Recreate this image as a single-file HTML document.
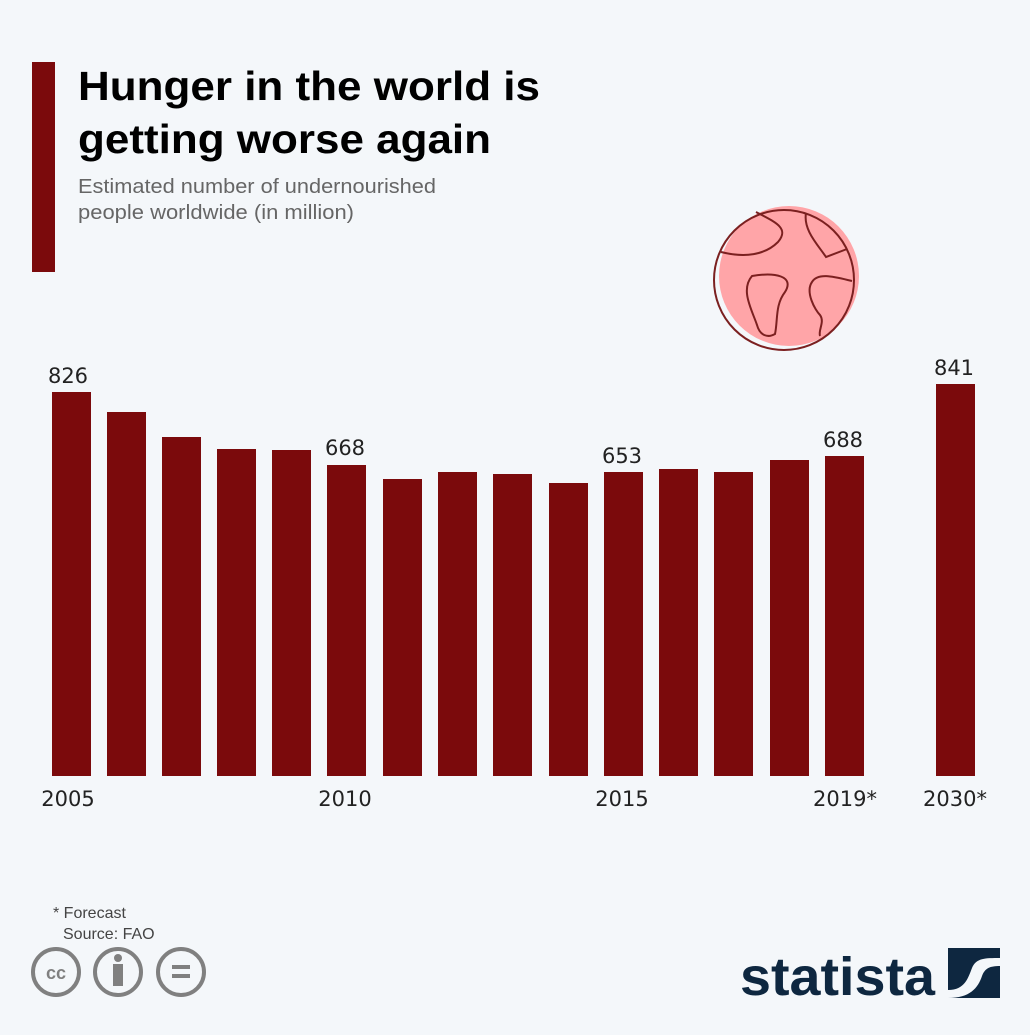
<!DOCTYPE html>
<html><head><meta charset="utf-8"><style>
body{margin:0;width:1030px;height:1030px;background:#f4f7fa;overflow:hidden;font-family:"Liberation Sans",sans-serif}
</style></head><body>
<svg width="1030" height="1030" xmlns="http://www.w3.org/2000/svg">
<rect width="1030" height="1030" fill="#f4f7fa"/>
<rect x="32" y="62" width="23" height="210" fill="#7b0a0c"/>
<text x="78" y="100" font-size="41" font-weight="bold" fill="#000" textLength="462" lengthAdjust="spacingAndGlyphs">Hunger in the world is</text>
<text x="78" y="153" font-size="41" font-weight="bold" fill="#000" textLength="413" lengthAdjust="spacingAndGlyphs">getting worse again</text>
<text x="78" y="193" font-size="20" fill="#666" textLength="358" lengthAdjust="spacingAndGlyphs">Estimated number of undernourished</text>
<text x="78" y="219" font-size="20" fill="#666" textLength="276" lengthAdjust="spacingAndGlyphs">people worldwide (in million)</text>
<circle cx="789" cy="276" r="70" fill="#ffa5a8"/>
<g fill="none" stroke="#7b2020" stroke-width="2">
<circle cx="784" cy="280" r="70"/>
<path d="M756 212 C775 222 790 228 778 242 C765 255 745 258 721 252"/>
<path d="M806 213 C803 230 818 245 826 257 L847 249"/>
<path d="M752 276 C775 272 795 276 785 292 C775 305 778 320 775 334 C768 338 760 336 757 325 C752 310 740 290 752 276Z"/>
<path d="M852 281 C835 277 818 272 812 282 C805 292 815 310 820 315 C825 322 818 330 820 336"/>
</g>
<g fill="#7b0a0c">
<rect x="52" y="392" width="39" height="384"/>
<rect x="107" y="412" width="39" height="364"/>
<rect x="162" y="437" width="39" height="339"/>
<rect x="217" y="449" width="39" height="327"/>
<rect x="272" y="450" width="39" height="326"/>
<rect x="327" y="465" width="39" height="311"/>
<rect x="383" y="479" width="39" height="297"/>
<rect x="438" y="472" width="39" height="304"/>
<rect x="493" y="474" width="39" height="302"/>
<rect x="549" y="483" width="39" height="293"/>
<rect x="604" y="472" width="39" height="304"/>
<rect x="659" y="469" width="39" height="307"/>
<rect x="714" y="472" width="39" height="304"/>
<rect x="770" y="460" width="39" height="316"/>
<rect x="825" y="456" width="39" height="320"/>
<rect x="936" y="384" width="39" height="392"/>
</g>
<g font-family="DejaVu Sans, sans-serif" font-size="21" fill="#222" text-anchor="middle">
<text x="68" y="383">826</text>
<text x="345" y="455">668</text>
<text x="622" y="463">653</text>
<text x="843" y="447">688</text>
<text x="954" y="375">841</text>
<text x="68" y="806">2005</text>
<text x="345" y="806">2010</text>
<text x="622" y="806">2015</text>
<text x="845" y="806">2019*</text>
<text x="955" y="806">2030*</text>
</g>
<text x="53" y="918" font-size="16" fill="#444">* Forecast</text>
<text x="63" y="939" font-size="16" fill="#444">Source: FAO</text>
<g fill="none" stroke="#808080" stroke-width="4">
<circle cx="56" cy="972" r="23"/><circle cx="118" cy="972" r="23"/><circle cx="181" cy="972" r="23"/>
</g>
<text x="56" y="979" font-size="18" font-weight="bold" fill="#808080" text-anchor="middle">cc</text>
<circle cx="118" cy="958" r="4" fill="#808080"/>
<rect x="113" y="964" width="10" height="22" fill="#808080"/>
<rect x="172" y="965" width="18" height="4" fill="#808080"/><rect x="172" y="974" width="18" height="4" fill="#808080"/>
<text x="740" y="995" font-size="54" font-weight="bold" fill="#0e2740" textLength="195" lengthAdjust="spacingAndGlyphs">statista</text>
<rect x="948" y="948" width="52" height="50" fill="#0e2740"/>
<path d="M948 990 C965 990 968 978 972 968 C976 958 985 958 1000 958 L1000 966 C990 966 985 968 982 976 C978 988 970 998 948 998Z" fill="#f4f7fa"/>
</svg>
</body></html>
